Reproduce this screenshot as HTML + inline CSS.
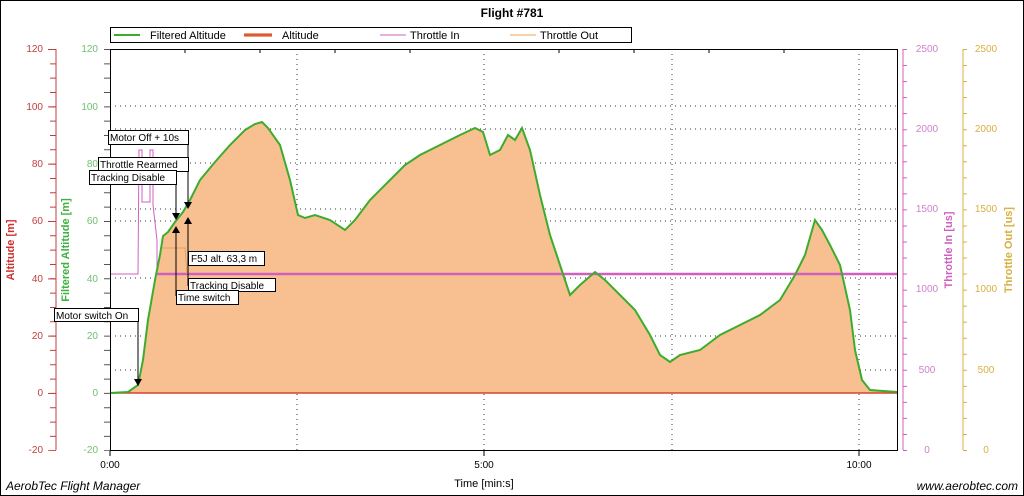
<!DOCTYPE html>
<html><head><meta charset="utf-8"><style>
html,body{margin:0;padding:0;background:#fff}
svg{display:block;font-family:"Liberation Sans",sans-serif}
</style></head><body>
<svg width="1024" height="496" viewBox="0 0 1024 496" xmlns="http://www.w3.org/2000/svg">
<rect x="0.5" y="0.5" width="1023" height="495" fill="#fff" stroke="#000"/>
<text x="512" y="17" text-anchor="middle" font-size="12" font-weight="bold">Flight #781</text>
<!-- legend -->
<rect x="110.5" y="27.5" width="521" height="15" fill="#fff" stroke="#000"/>
<line x1="114" y1="35" x2="140" y2="35" stroke="#3cac2c" stroke-width="2"/>
<text x="150" y="39" font-size="11">Filtered Altitude</text>
<line x1="244" y1="35" x2="272" y2="35" stroke="#f0a070" stroke-width="4"/>
<line x1="244" y1="35" x2="272" y2="35" stroke="#d04030" stroke-width="1.5"/>
<text x="282" y="39" font-size="11">Altitude</text>
<line x1="380" y1="35" x2="406" y2="35" stroke="#d060c0" stroke-width="1"/>
<text x="410" y="39" font-size="11">Throttle In</text>
<line x1="510" y1="35" x2="536" y2="35" stroke="#f0a050" stroke-width="1"/>
<text x="540" y="39" font-size="11">Throttle Out</text>
<!-- grid -->
<g stroke="#333" stroke-dasharray="1,4" stroke-width="1">
<line x1="110" y1="106" x2="897" y2="106"/><line x1="110" y1="163" x2="897" y2="163"/>
<line x1="110" y1="221" x2="897" y2="221"/><line x1="110" y1="278" x2="897" y2="278"/>
<line x1="110" y1="336" x2="897" y2="336"/>
<line x1="110" y1="129" x2="897" y2="129"/><line x1="110" y1="209" x2="897" y2="209"/>
<line x1="110" y1="370" x2="897" y2="370"/>
<line x1="297" y1="49" x2="297" y2="450"/><line x1="484" y1="49" x2="484" y2="450"/>
<line x1="672" y1="49" x2="672" y2="450"/><line x1="859" y1="49" x2="859" y2="450"/>
</g>
<!-- fill -->
<polygon fill="#f8c090" points="110,393 128,392 138,385 143,360 148,320 155,280 160,255 163,236 168,232 175,222 183,212 190,200 200,180 215,162 230,145 245,130 255,124 262,122 268,128 280,145 290,180 298,215 305,218 315,215 330,220 345,230 355,220 370,200 390,180 405,165 420,155 440,145 460,135 475,128 483,132 490,155 500,150 508,135 515,140 522,128 530,150 540,195 550,235 560,265 570,295 580,285 595,272 605,280 620,295 635,310 650,335 660,355 670,362 680,355 700,350 720,335 740,325 760,315 780,300 795,275 805,255 815,220 822,230 830,245 840,265 850,310 855,350 862,380 870,390 897,392 897,393"/>
<!-- throttle lines -->
<polyline fill="none" stroke="#d060c0" stroke-width="1" points="110,274 138,274 139,150 142,150 142,202 150,202 150,150 153,150 153,205 157,240 157,274"/>
<line x1="157" y1="274" x2="897" y2="274" stroke="#d060c0" stroke-width="2.5"/>
<polyline fill="none" stroke="#e8a060" stroke-width="1" points="160,248 185,248 187,274"/>
<line x1="110" y1="393" x2="897" y2="393" stroke="#d84030" stroke-width="1.5"/>
<polyline fill="none" stroke="#3cac2c" stroke-width="2" points="110,393 128,392 138,385 143,360 148,320 155,280 160,255 163,236 168,232 175,222 183,212 190,200 200,180 215,162 230,145 245,130 255,124 262,122 268,128 280,145 290,180 298,215 305,218 315,215 330,220 345,230 355,220 370,200 390,180 405,165 420,155 440,145 460,135 475,128 483,132 490,155 500,150 508,135 515,140 522,128 530,150 540,195 550,235 560,265 570,295 580,285 595,272 605,280 620,295 635,310 650,335 660,355 670,362 680,355 700,350 720,335 740,325 760,315 780,300 795,275 805,255 815,220 822,230 830,245 840,265 850,310 855,350 862,380 870,390 897,392"/>
<!-- plot frame -->
<rect x="110.5" y="49.5" width="787" height="401" fill="none" stroke="#000"/>
<g stroke="#000">
<line x1="110" y1="450" x2="110" y2="456"/><line x1="484" y1="450" x2="484" y2="456"/><line x1="859" y1="450" x2="859" y2="456"/>
<line x1="185" y1="49" x2="185" y2="53"/><line x1="260" y1="49" x2="260" y2="53"/><line x1="335" y1="49" x2="335" y2="53"/><line x1="410" y1="49" x2="410" y2="53"/><line x1="559" y1="49" x2="559" y2="53"/><line x1="634" y1="49" x2="634" y2="53"/><line x1="709" y1="49" x2="709" y2="53"/><line x1="784" y1="49" x2="784" y2="53"/>
</g>
<g font-size="10" text-anchor="middle"><text x="110" y="468">0:00</text><text x="484" y="468">5:00</text><text x="859" y="468">10:00</text></g>
<text x="484" y="487" font-size="11" text-anchor="middle">Time [min:s]</text>
<text x="6" y="490" font-size="12" font-style="italic">AerobTec Flight Manager</text>
<text x="1018" y="490" font-size="12" font-style="italic" text-anchor="end">www.aerobtec.com</text>
<!-- left axes -->
<line x1="56" y1="49" x2="56" y2="450" stroke="#c04040"/>
<line x1="53" y1="49" x2="53" y2="451" stroke="#c04040" stroke-width="6" stroke-dasharray="1,13.33"/>
<line x1="52" y1="49" x2="52" y2="451" stroke="#c04040" stroke-width="8" stroke-dasharray="1,56.33"/>
<g fill="#c04040" font-size="10" text-anchor="end">
<text x="43" y="52">120</text><text x="43" y="110">100</text><text x="43" y="167">80</text><text x="43" y="224">60</text><text x="43" y="282">40</text><text x="43" y="339">20</text><text x="43" y="396">0</text><text x="43" y="453">-20</text></g>
<text transform="translate(14,250) rotate(-90)" font-size="11" font-weight="bold" fill="#d03030" text-anchor="middle">Altitude [m]</text>
<line x1="107" y1="49" x2="107" y2="451" stroke="#555" stroke-width="6" stroke-dasharray="1,13.33"/>
<g fill="#70c070" font-size="10" text-anchor="end">
<text x="98" y="52">120</text><text x="98" y="110">100</text><text x="98" y="167">80</text><text x="98" y="224">60</text><text x="98" y="282">40</text><text x="98" y="339">20</text><text x="98" y="396">0</text><text x="98" y="453">-20</text></g>
<text transform="translate(69,250) rotate(-90)" font-size="11" font-weight="bold" fill="#40b040" text-anchor="middle">Filtered Altitude [m]</text>
<!-- right axes -->
<line x1="903" y1="49" x2="903" y2="450" stroke="#d060c0"/>
<line x1="905" y1="49" x2="905" y2="451" stroke="#d060c0" stroke-width="4" stroke-dasharray="1,15.04"/>
<g fill="#d080c8" font-size="10" text-anchor="middle"><text x="927" y="52">2500</text><text x="927" y="132">2000</text><text x="927" y="212">1500</text><text x="927" y="292">1000</text><text x="927" y="373">500</text><text x="927" y="453">0</text></g>
<text transform="translate(952,250) rotate(-90)" font-size="11" font-weight="bold" fill="#d060c0" text-anchor="middle">Throttle In [us]</text>
<line x1="963" y1="49" x2="963" y2="450" stroke="#d8b040"/>
<line x1="965" y1="49" x2="965" y2="451" stroke="#d8b040" stroke-width="4" stroke-dasharray="1,15.04"/>
<g fill="#d8b040" font-size="10" text-anchor="middle"><text x="986" y="52">2500</text><text x="986" y="132">2000</text><text x="986" y="212">1500</text><text x="986" y="292">1000</text><text x="986" y="373">500</text><text x="986" y="453">0</text></g>
<text transform="translate(1012,250) rotate(-90)" font-size="11" font-weight="bold" fill="#d8b040" text-anchor="middle">Throttle Out [us]</text>
<!-- annotations -->
<g stroke="#000" fill="none">
<line x1="138" y1="318" x2="138" y2="385"/><line x1="176" y1="184" x2="176" y2="218"/>
<line x1="176" y1="230" x2="176" y2="296"/><line x1="188" y1="137" x2="188" y2="208"/>
<line x1="188" y1="220" x2="188" y2="286"/><line x1="183" y1="171" x2="188" y2="171"/>
</g>
<g fill="#000"><polygon points="134,379 142,379 138,386"/><polygon points="172,213 180,213 176,220"/><polygon points="172,233 180,233 176,226"/><polygon points="184,202 192,202 188,209"/><polygon points="184,224 192,224 188,217"/></g>
<g font-size="10" fill="#000">
<rect x="108.5" y="130.5" width="80" height="14" fill="#fff" stroke="#000"/><text x="110" y="141">Motor Off + 10s</text>
<rect x="98.5" y="157.5" width="90" height="14" fill="#fff" stroke="#000"/><text x="100" y="168">Throttle Rearmed</text>
<rect x="89.5" y="170.5" width="87" height="14" fill="#fff" stroke="#000"/><text x="91" y="181">Tracking Disable</text>
<rect x="188.5" y="251.5" width="76" height="14" fill="#fff" stroke="#000"/><text x="191" y="262">F5J alt. 63,3 m</text>
<rect x="188.5" y="278.5" width="87" height="13" fill="#fff" stroke="#000"/><text x="190" y="289">Tracking Disable</text>
<rect x="176.5" y="290.5" width="62" height="14" fill="#fff" stroke="#000"/><text x="178" y="301">Time switch</text>
<rect x="54.5" y="308.5" width="84" height="13" fill="#fff" stroke="#000"/><text x="56" y="319">Motor switch On</text>
</g>
</svg>
</body></html>
